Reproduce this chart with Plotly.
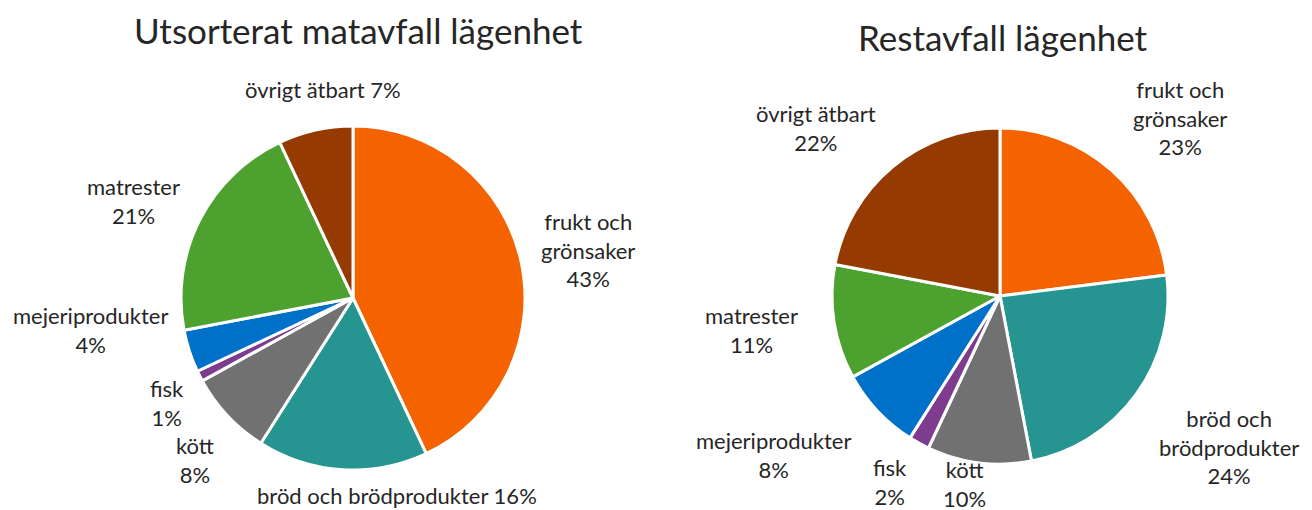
import plotly.graph_objects as go

# data
kategorier = ["frukt och grönsaker", "bröd och brödprodukter", "kött", "fisk",
              "mejeriprodukter", "matrester", "övrigt ätbart"]
matavfall = [43, 16, 8, 1, 4, 21, 7]
restavfall = [23, 24, 10, 2, 8, 11, 22]

farger = ["#F46300", "#269490", "#717171", "#7E3C8E", "#0071C9", "#4DA22F", "#953A00"]

# etikettlayout (texten byggs från data)
mall_vanster = ["frukt och<br>grönsaker<br>{v}%", "{k} {v}%", "{k}<br>{v}%", "{k}<br>{v}%",
                "{k}<br>{v}%", "{k}<br>{v}%", "{k} {v}%"]
pos_vanster = [(588, 250), (397, 495), (195, 460), (167, 403), (90, 330), (133, 201), (323, 89)]
mall_hoger = ["frukt och<br>grönsaker<br>{v}%", "bröd och<br>brödprodukter<br>{v}%", "{k}<br>{v}%",
              "{k}<br>{v}%", "{k}<br>{v}%", "{k}<br>{v}%", "{k}<br>{v}%"]
pos_hoger = [(1180, 118), (1229, 447), (964, 484), (890, 482), (773, 455), (752, 330), (816, 128)]

W, H = 1312, 510
FONT = "Lato, Open Sans, sans-serif"
TEXTFARG = "#262626"

fig = go.Figure()

fig.add_trace(go.Pie(
    labels=kategorier, values=matavfall, sort=False, direction="clockwise", rotation=0,
    marker=dict(colors=farger, line=dict(color="white", width=3)),
    textinfo="none", hoverinfo="label+percent",
    domain=dict(x=[181 / W, 525 / W], y=[1 - 470 / H, 1 - 126 / H]),
))
fig.add_trace(go.Pie(
    labels=kategorier, values=restavfall, sort=False, direction="clockwise", rotation=0,
    marker=dict(colors=farger, line=dict(color="white", width=3)),
    textinfo="none", hoverinfo="label+percent",
    domain=dict(x=[832 / W, 1168 / W], y=[1 - 464 / H, 1 - 128 / H]),
))

annots = []
for k, v, m, (px, py) in zip(kategorier, matavfall, mall_vanster, pos_vanster):
    annots.append(dict(text=m.format(k=k, v=v), x=px / W, y=1 - py / H))
for k, v, m, (px, py) in zip(kategorier, restavfall, mall_hoger, pos_hoger):
    annots.append(dict(text=m.format(k=k, v=v), x=px / W, y=1 - py / H))
for a in annots:
    a.update(xref="paper", yref="paper", showarrow=False, xanchor="center", yanchor="middle",
             align="center", font=dict(size=22, color=TEXTFARG, family=FONT))

annots.append(dict(text="Utsorterat matavfall lägenhet", x=358 / W, y=1 - 30 / H,
                   xref="paper", yref="paper", showarrow=False, xanchor="center", yanchor="middle",
                   font=dict(size=35, color=TEXTFARG, family=FONT)))
annots.append(dict(text="Restavfall lägenhet", x=1003 / W, y=1 - 37 / H,
                   xref="paper", yref="paper", showarrow=False, xanchor="center", yanchor="middle",
                   font=dict(size=35, color=TEXTFARG, family=FONT)))

fig.update_layout(
    width=W, height=H, margin=dict(l=0, r=0, t=0, b=0),
    paper_bgcolor="white", plot_bgcolor="white",
    showlegend=False, annotations=annots,
)

# sidans standardmarginal bort så att figuren ligger i hörnet
fig.write_html("out.html", config={"displayModeBar": False},
               post_script="document.body.style.margin='0';")
